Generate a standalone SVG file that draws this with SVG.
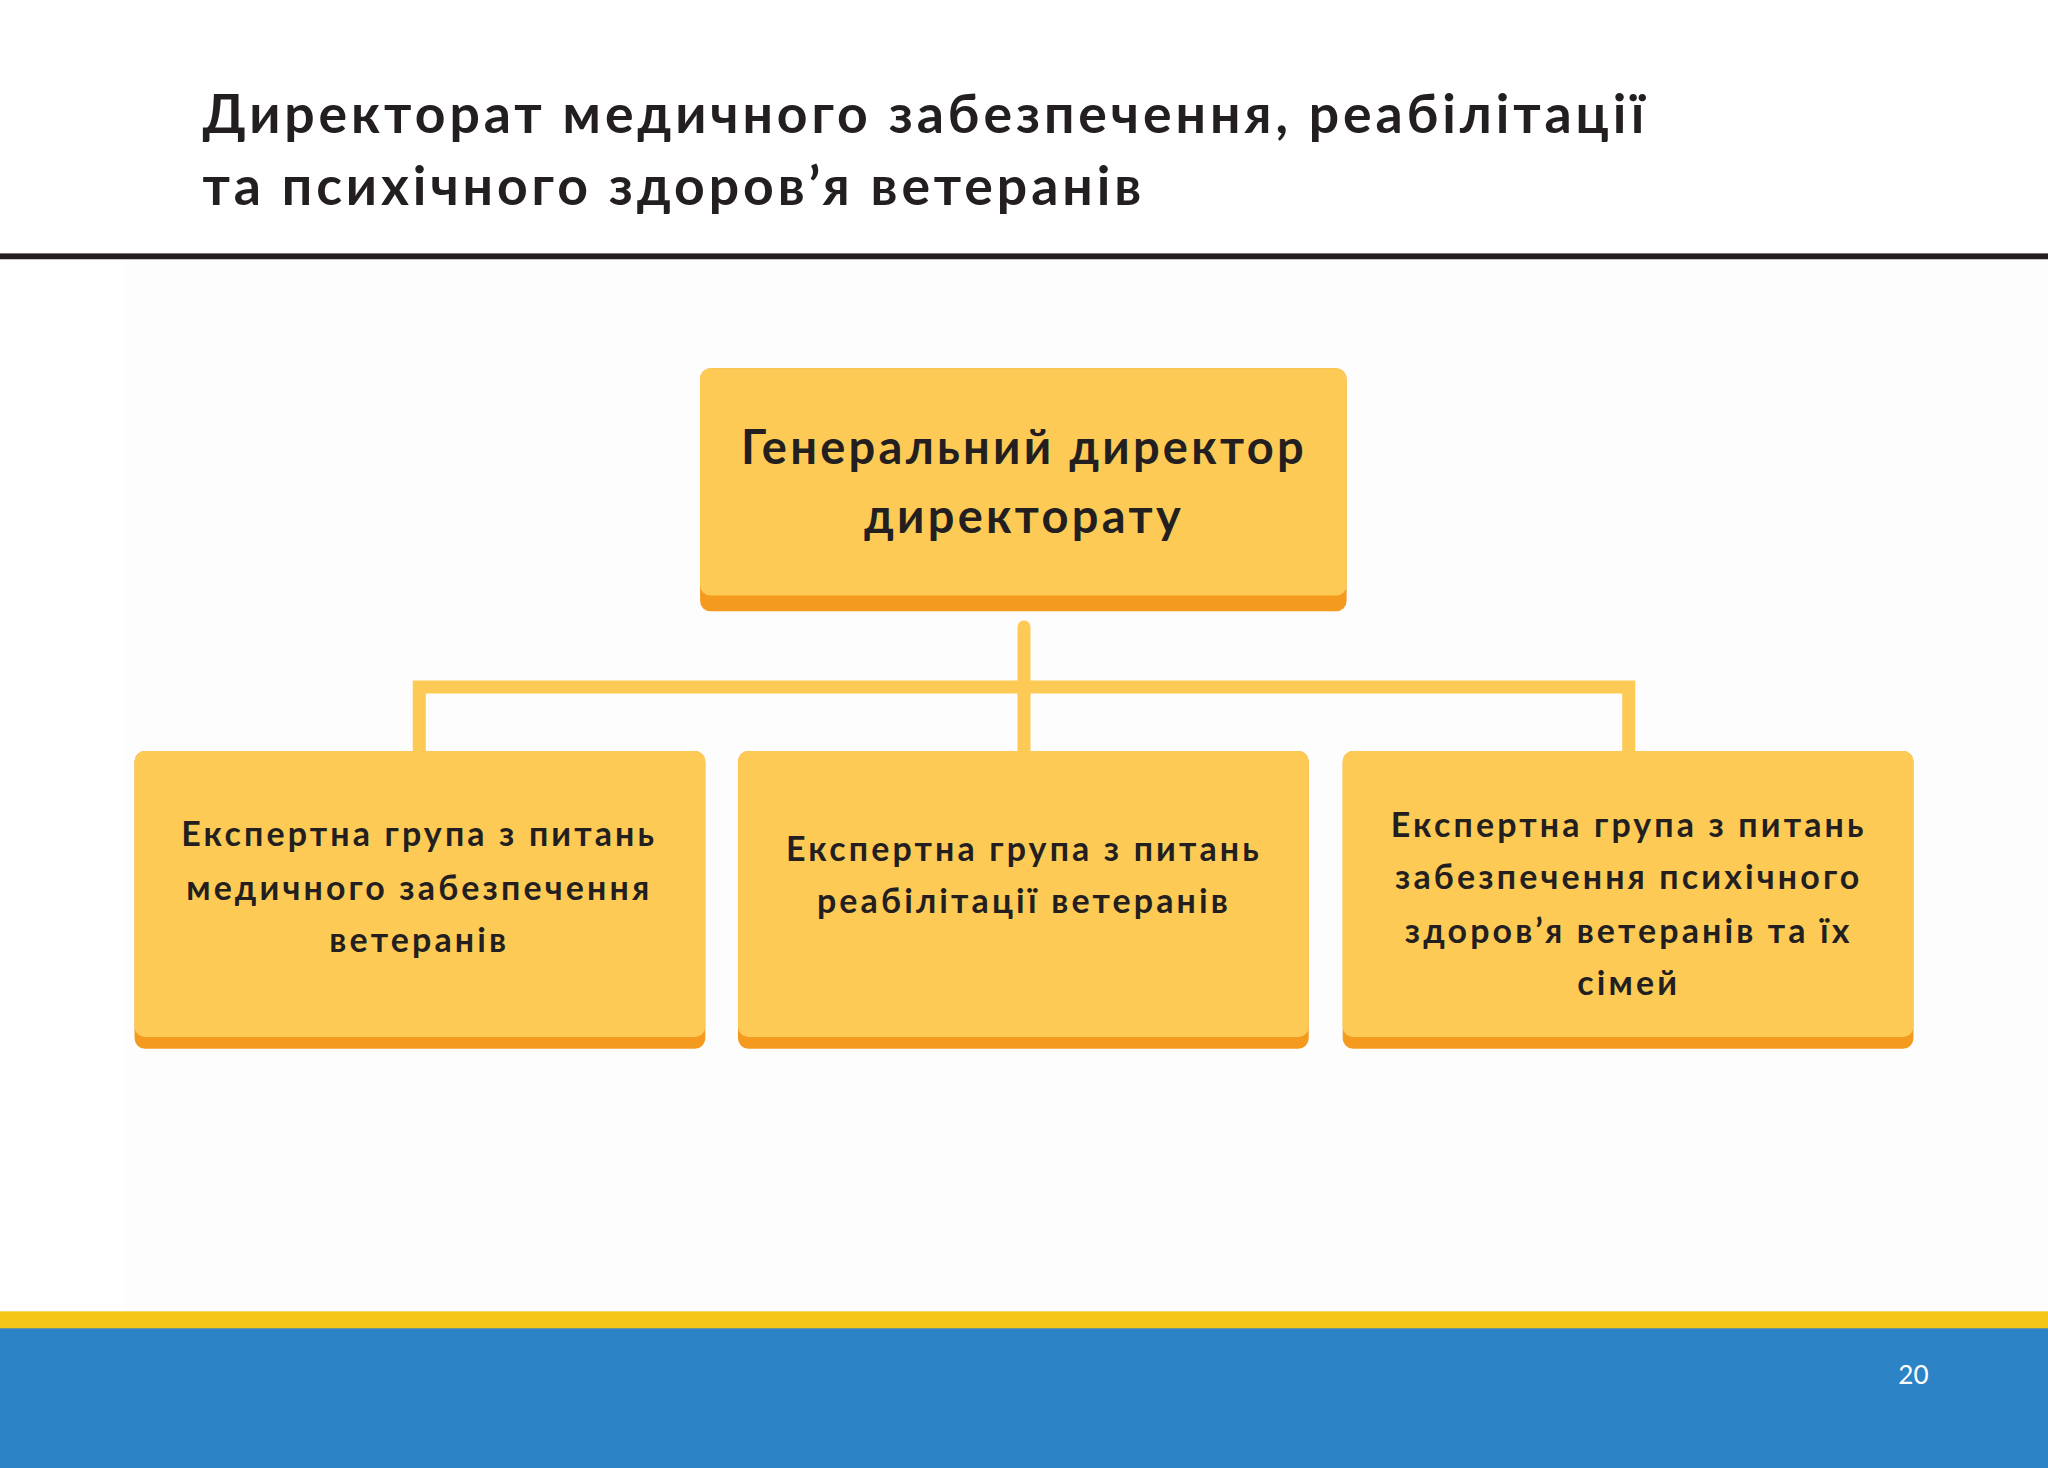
<svg xmlns="http://www.w3.org/2000/svg" width="2048" height="1468" viewBox="0 0 2048 1468">
<style>
.t{font-family:"Lato","Liberation Sans",sans-serif;font-weight:bold;fill:#231f20;text-anchor:middle}
.s{font-size:26px;letter-spacing:2.4px}
.b{fill:#fdcb55}.o{fill:#f39a1f}
.c{stroke:#fdcb55;stroke-width:10;fill:none;stroke-linecap:round}
</style>
<rect width="2048" height="1468" fill="#ffffff"/>
<g transform="scale(1.30612)">
<rect x="95" y="200" width="1473" height="804" fill="#fdfdfd"/>
<g id="title">
<text x="155" y="102" style="font-family:Lato,'Liberation Sans',sans-serif;font-weight:bold;font-size:41px;fill:#231f20;letter-spacing:3px">Директорат медичного забезпечення, реабілітації</text>
<text x="155" y="157" style="font-family:Lato,'Liberation Sans',sans-serif;font-weight:bold;font-size:41px;fill:#231f20;letter-spacing:3px">та психічного здоров’я ветеранів</text>
</g>
<rect x="0" y="194" width="1568" height="4.5" fill="#231f20"/>
<g id="connectors">
<path class="c" d="M784 480V575M321 575V526H1247V575"/>
</g>
<g id="n0">
<rect class="o" x="536" y="282" width="495" height="186" rx="8"/>
<rect class="b" x="536" y="282" width="495" height="174" rx="8"/>
<text class="t" x="784" y="355" font-size="36" letter-spacing="2.5">Генеральний директор</text>
<text class="t" x="784" y="408" font-size="36" letter-spacing="2.5">директорату</text>
</g>
<g id="n1">
<rect class="o" x="103" y="575" width="437" height="228" rx="8"/>
<rect class="b" x="103" y="575" width="437" height="219" rx="8"/>
<text class="t s" x="321" y="648">Експертна група з питань</text>
<text class="t s" x="321" y="689">медичного забезпечення</text>
<text class="t s" x="321" y="729">ветеранів</text>
</g>
<g id="n2">
<rect class="o" x="565" y="575" width="437" height="228" rx="8"/>
<rect class="b" x="565" y="575" width="437" height="219" rx="8"/>
<text class="t s" x="784" y="659">Експертна група з питань</text>
<text class="t s" x="784" y="699">реабілітації ветеранів</text>
</g>
<g id="n3">
<rect class="o" x="1028" y="575" width="437" height="228" rx="8"/>
<rect class="b" x="1028" y="575" width="437" height="219" rx="8"/>
<text class="t s" x="1247" y="641">Експертна група з питань</text>
<text class="t s" x="1247" y="681">забезпечення психічного</text>
<text class="t s" x="1247" y="722">здоров’я ветеранів та їх</text>
<text class="t s" x="1247" y="762">сімей</text>
</g>
<rect x="0" y="1004" width="1568" height="14" fill="#f5c518"/>
<rect x="0" y="1017" width="1568" height="107" fill="#2c83c6"/>
<text x="1465" y="1060" text-anchor="middle" style="font-family:Lato,'Liberation Sans',sans-serif;font-size:20px;fill:#ffffff">20</text>
</g>
</svg>
